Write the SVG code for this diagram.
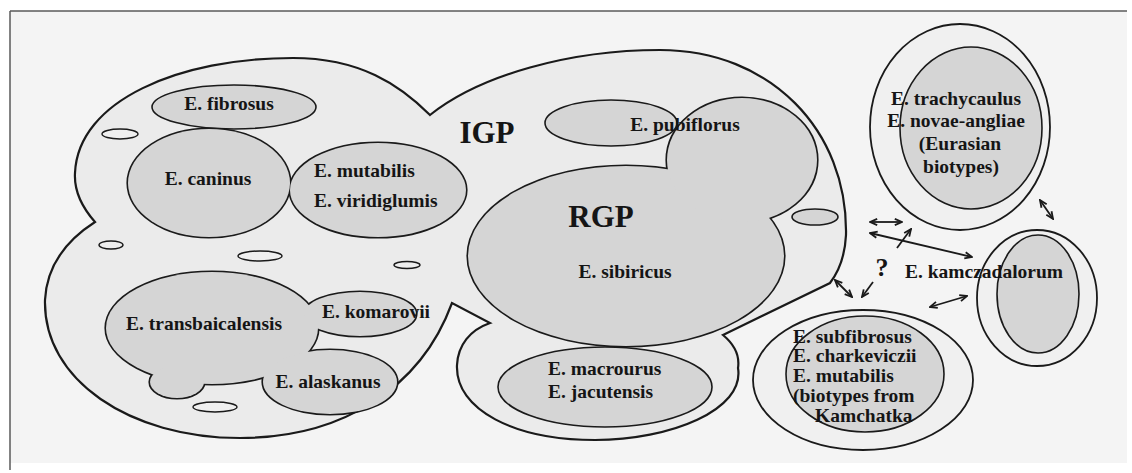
<svg xmlns="http://www.w3.org/2000/svg" width="1132" height="473" viewBox="0 0 1132 473">
<style>
.t{font-family:"Liberation Serif","Times New Roman",serif;font-weight:bold;font-size:19.5px;fill:#151515}
.big{font-size:31px}
.m{text-anchor:middle}
.ln{stroke:#1a1a1a;fill:none}
.g{fill:#d5d5d5}
.gs{fill:#d5d5d5;stroke:#1a1a1a;stroke-width:1.6}
.u{fill:#d5d5d5;stroke:#1a1a1a;stroke-width:3.2}
.w{fill:#efefef;stroke:#1a1a1a;stroke-width:1.4}
.arr{stroke:#1a1a1a;stroke-width:1.8;fill:none}
</style>
<defs>
<marker id="ah" viewBox="0 0 10 10" refX="9" refY="5" markerWidth="9" markerHeight="9" markerUnits="userSpaceOnUse" orient="auto-start-reverse">
<path d="M1,1.5 L9,5 L1,8.5" fill="none" stroke="#1a1a1a" stroke-width="2"/>
</marker>
</defs>
<rect x="0" y="0" width="1132" height="473" fill="#ffffff"/>
<rect x="10" y="11" width="1117" height="452" fill="#f4f4f4"/>
<g id="frame" stroke="#5a5a5a" stroke-width="1.5">
<line x1="10" y1="11" x2="1127" y2="11"/>
<line x1="10" y1="11" x2="10" y2="470"/>
</g>
<g id="igp">
<path d="M430,115 C480,75 570,50 660,50 C770,50 848,130 846,235 C845,255 840,270 830,283 L723,335 C735,345 740,355 738,368 C745,410 670,440 595,440 C515,440 455,410 457,365 C458,345 470,330 490,323 L452,303 C420,390 340,438 240,438 C130,438 43,380 45,300 C47,262 70,238 95,222 C80,205 74,190 75,173 C78,100 180,58 293,58 C360,58 400,85 430,115 Z" fill="#ebebeb" stroke="#1a1a1a" stroke-width="2.2"/>
<text class="t big m" x="487" y="143">IGP</text>
</g>
<g id="holes">
<ellipse class="w" cx="120" cy="134" rx="18" ry="5"/>
<ellipse class="w" cx="111" cy="245" rx="12" ry="4"/>
<ellipse class="w" cx="260" cy="256" rx="22" ry="5"/>
<ellipse class="w" cx="407" cy="265" rx="13" ry="3.5"/>
<ellipse class="w" cx="215" cy="407" rx="22" ry="5"/>
</g>
<g id="fibrosus">
<ellipse class="gs" cx="234" cy="107" rx="82" ry="22"/>
<text class="t m" x="229" y="110">E. fibrosus</text>
</g>
<g id="caninus-mutabilis">
<ellipse class="u" cx="209" cy="183" rx="81" ry="54"/>
<ellipse class="u" cx="378" cy="190" rx="88" ry="47"/>
<ellipse class="g" cx="209" cy="183" rx="81" ry="54"/>
<ellipse class="g" cx="378" cy="190" rx="88" ry="47"/>
<text class="t m" x="208" y="185">E. caninus</text>
<text class="t" x="314" y="177">E. mutabilis</text>
<text class="t" x="314" y="207">E. viridiglumis</text>
</g>
<g id="pubiflorus">
<ellipse class="gs" cx="611" cy="123" rx="66" ry="23"/>
</g>
<g id="rgp">
<ellipse class="u" cx="626" cy="256" rx="158" ry="90"/>
<ellipse class="u" cx="742" cy="160" rx="75" ry="62"/>
<ellipse class="g" cx="626" cy="256" rx="158" ry="90"/>
<ellipse class="g" cx="742" cy="160" rx="75" ry="62"/>
<text class="t m" x="685" y="131">E. pubiflorus</text>
<text class="t big m" x="601" y="227">RGP</text>
<text class="t m" x="625" y="278">E. sibiricus</text>
</g>
<g id="small-right">
<ellipse class="gs" cx="815" cy="217" rx="23" ry="8"/>
</g>
<g id="transbaicalensis">
<ellipse class="u" cx="212" cy="328" rx="106" ry="56"/>
<ellipse class="u" cx="360" cy="314" rx="56" ry="22"/>
<ellipse class="u" cx="330" cy="382" rx="67" ry="32"/>
<ellipse class="u" cx="177" cy="382" rx="27" ry="16"/>
<ellipse class="g" cx="212" cy="328" rx="106" ry="56"/>
<ellipse class="g" cx="360" cy="314" rx="56" ry="22"/>
<ellipse class="g" cx="330" cy="382" rx="67" ry="32"/>
<ellipse class="g" cx="177" cy="382" rx="27" ry="16"/>
<text class="t m" x="204" y="330">E. transbaicalensis</text>
<text class="t m" x="376" y="318">E. komarovii</text>
<text class="t m" x="328" y="388">E. alaskanus</text>
</g>
<g id="macrourus">
<ellipse class="gs" cx="605" cy="387" rx="107" ry="40"/>
<text class="t" x="548" y="375">E. macrourus</text>
<text class="t" x="548" y="398">E. jacutensis</text>
</g>
<g id="trachycaulus">
<ellipse cx="960" cy="127" rx="90" ry="103" fill="#f0f0f0" stroke="#1a1a1a" stroke-width="1.8"/>
<ellipse class="gs" cx="971" cy="128" rx="71" ry="81"/>
<text class="t m" x="956" y="105">E. trachycaulus</text>
<text class="t m" x="956" y="127">E. novae-angliae</text>
<text class="t m" x="960" y="150">(Eurasian</text>
<text class="t m" x="961" y="173">biotypes)</text>
</g>
<g id="kamczadalorum">
<ellipse cx="1037" cy="298" rx="60" ry="68" fill="#f0f0f0" stroke="#1a1a1a" stroke-width="1.8"/>
<ellipse class="gs" cx="1038" cy="294" rx="41" ry="59"/>
<text class="t m" x="984" y="278">E. kamczadalorum</text>
</g>
<g id="subfibrosus">
<ellipse cx="863" cy="380" rx="110" ry="70" fill="#f0f0f0" stroke="#1a1a1a" stroke-width="1.8"/>
<ellipse class="gs" cx="865" cy="374" rx="79" ry="58"/>
<text class="t" x="793" y="343">E. subfibrosus</text>
<text class="t" x="793" y="362">E. charkeviczii</text>
<text class="t" x="793" y="382">E. mutabilis</text>
<text class="t" x="793" y="402">(biotypes from</text>
<text class="t" x="815" y="422">Kamchatka</text>
</g>
<g id="connectors">
<line class="arr" x1="870" y1="222" x2="902" y2="222" marker-start="url(#ah)" marker-end="url(#ah)"/>
<line class="arr" x1="870" y1="233" x2="972" y2="257" marker-start="url(#ah)" marker-end="url(#ah)"/>
<line class="arr" x1="897" y1="248" x2="911" y2="229" marker-end="url(#ah)"/>
<line class="arr" x1="835" y1="280" x2="852" y2="297" marker-start="url(#ah)" marker-end="url(#ah)"/>
<line class="arr" x1="873" y1="282" x2="862" y2="297" marker-end="url(#ah)"/>
<line class="arr" x1="930" y1="307" x2="967" y2="296" marker-start="url(#ah)" marker-end="url(#ah)"/>
<line class="arr" x1="1040" y1="200" x2="1053" y2="219" marker-start="url(#ah)" marker-end="url(#ah)"/>
<text class="t m" x="882" y="276" style="font-size:26px">?</text>
</g>
</svg>
